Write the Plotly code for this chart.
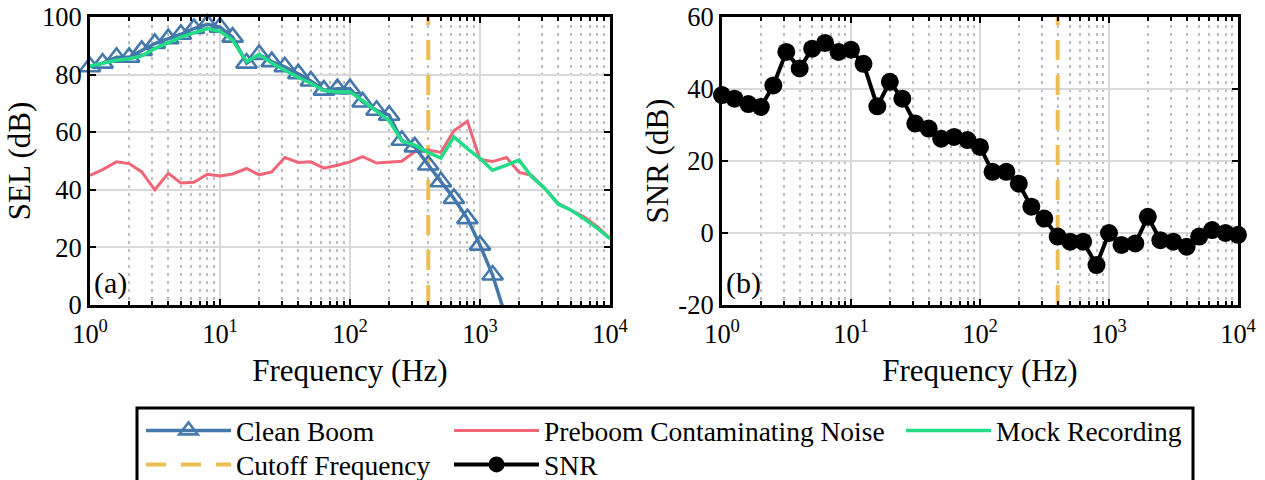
import plotly.graph_objects as go

# ---------------- data ----------------
FREQ_HZ = [1, 1.25, 1.6, 2, 2.5, 3.15, 4, 5, 6.3, 8,
           10, 12.5, 16, 20, 25, 31.5, 40, 50, 63, 80,
           100, 125, 160, 200, 250, 315, 400, 500, 630, 800,
           1000, 1250, 1600, 2000, 2500, 3150, 4000, 5000, 6300, 8000, 10000]

CLEAN_BOOM_DB = [82.7, 84, 86, 86, 88.4, 90.8, 92.5, 94, 96, 97.5,
                 96.5, 93, 84, 87, 84.5, 82.7, 80.3, 77.8, 74.6, 75.1,
                 75.1, 70.5, 67.6, 65.9, 57.2, 54.9, 48.6, 42.8, 37, 30,
                 20.8, 10.4, -5]

PREBOOM_NOISE_DB = [45, 47, 49.7, 49.1, 46.2, 40, 45.7, 42.4, 42.6, 45.4,
                    44.8, 45.5, 47.4, 45.2, 46.2, 51.2, 49.5, 49.7, 47.5, 48.5,
                    49.7, 51.5, 49.3, 49.7, 49.9, 53.2, 53.8, 53, 60.5, 63.8,
                    50.5, 49.8, 51.2, 46, 45, 40.5, 35.3, 33, 30.6, 27.2, 23.2]

MOCK_RECORDING_DB = [83, 84, 85, 85.5, 86.5, 89, 91, 93, 94.5, 96,
                     95, 92, 84.5, 87, 84, 81.5, 79, 77, 74.5, 74,
                     74, 71, 67.5, 64, 57, 55.5, 53, 51, 58.4, 54.3,
                     50.9, 46.8, 48.6, 50.3, 44.5, 40.5, 35, 33, 30, 26.6, 23]

SNR_DB = [38.3, 37.3, 35.8, 35, 41, 50.3, 45.7, 51.2, 52.8, 50.3,
          50.9, 47, 35.2, 42, 37.3, 30.4, 29, 26.2, 26.7, 25.8,
          23.9, 17, 17, 13.7, 7.3, 4, -1, -2.4, -2.4, -8.9,
          0, -3.3, -2.9, 4.5, -2, -2.4, -3.8, -1, 0.8, 0, -0.5]

CUTOFF_HZ = 400

X_RANGE_LOG = [0, 4]
Y_RANGE_A = [0, 100]
Y_RANGE_B = [-20, 60]
X_TICKVALS = [1, 10, 100, 1000, 10000]
X_TICKTEXT = ["10<sup>0</sup>", "10<sup>1</sup>", "10<sup>2</sup>",
              "10<sup>3</sup>", "10<sup>4</sup>"]
X_MINOR = [m * 10 ** d for d in range(4) for m in range(2, 10)]
Y_TICKS_A = [0, 20, 40, 60, 80, 100]
Y_TICKS_B = [-20, 0, 20, 40, 60]

# ---------------- styling ----------------
W, H = 1265, 480
FONT = "Liberation Serif"
BLUE = "#4477AA"
RED = "#EE6677"
GREEN = "#22DD88"
GOLD = "#ECBF55"
CUT_DASH = "20px,15px"
TICK_SIZE = 26.5
TITLE_SIZE = 31


def px_x(p):
    return p / W


def px_y(p):
    return 1 - p / H


fig = go.Figure()

# cutoff lines (drawn first, behind data)
fig.add_trace(go.Scatter(
    x=[CUTOFF_HZ, CUTOFF_HZ], y=Y_RANGE_A, mode="lines",
    line=dict(color=GOLD, width=4, dash=CUT_DASH),
    name="Cutoff Frequency", legend="legend4",
    xaxis="x", yaxis="y"))
fig.add_trace(go.Scatter(
    x=[CUTOFF_HZ, CUTOFF_HZ], y=Y_RANGE_B, mode="lines",
    line=dict(color=GOLD, width=4, dash=CUT_DASH),
    name="Cutoff Frequency", showlegend=False, xaxis="x2", yaxis="y2"))

fig.add_trace(go.Scatter(
    x=FREQ_HZ[:len(PREBOOM_NOISE_DB)], y=PREBOOM_NOISE_DB, mode="lines",
    line=dict(color=RED, width=3),
    name="Preboom Contaminating Noise", legend="legend2",
    xaxis="x", yaxis="y"))

# hide markers that fall outside the axis range (their line part is clipped)
clean_opacity = [1 if v >= Y_RANGE_A[0] else 0 for v in CLEAN_BOOM_DB]
fig.add_trace(go.Scatter(
    x=FREQ_HZ[:len(CLEAN_BOOM_DB)], y=CLEAN_BOOM_DB, mode="lines+markers",
    line=dict(color=BLUE, width=3.5),
    marker=dict(symbol="triangle-up-open", size=18, color=BLUE,
                opacity=clean_opacity, line=dict(width=2.6, color=BLUE)),
    cliponaxis=False,
    name="Clean Boom", legend="legend", xaxis="x", yaxis="y"))

fig.add_trace(go.Scatter(
    x=FREQ_HZ[:len(MOCK_RECORDING_DB)], y=MOCK_RECORDING_DB, mode="lines",
    line=dict(color=GREEN, width=3.5),
    name="Mock Recording", legend="legend3", xaxis="x", yaxis="y"))

fig.add_trace(go.Scatter(
    x=FREQ_HZ[:len(SNR_DB)], y=SNR_DB, mode="lines+markers",
    line=dict(color="black", width=4),
    marker=dict(symbol="circle", size=18, color="black"),
    cliponaxis=False,
    name="SNR", legend="legend5", xaxis="x2", yaxis="y2"))


def xaxis_style(domain, anchor):
    return dict(
        domain=domain, anchor=anchor, type="log", range=X_RANGE_LOG,
        tickmode="array", tickvals=X_TICKVALS, ticktext=X_TICKTEXT,
        ticks="inside", ticklen=6, tickwidth=2, tickcolor="black",
        showline=True, linewidth=3, linecolor="black", mirror="ticks",
        showgrid=True, gridcolor="#d9d9d9", gridwidth=2,
        minor=dict(tickmode="array", tickvals=X_MINOR, ticks="inside",
                   ticklen=4, tickwidth=2, tickcolor="black",
                   showgrid=True, gridcolor="#bdbdbd", gridwidth=2,
                   griddash="3px,5px"),
        tickfont=dict(size=TICK_SIZE, color="black", family=FONT),
        ticklabelstandoff=3,
        title=dict(text="Frequency (Hz)", font=dict(size=TITLE_SIZE, family=FONT),
                   standoff=12),
        automargin=False, zeroline=False,
    )


def yaxis_style(domain, anchor, rng, ticks, title, standoff):
    return dict(
        domain=domain, anchor=anchor, range=rng,
        tickmode="array", tickvals=ticks, ticktext=[str(t) for t in ticks],
        ticks="inside", ticklen=6, tickwidth=2, tickcolor="black",
        showline=True, linewidth=3, linecolor="black", mirror="ticks",
        showgrid=True, gridcolor="#d9d9d9", gridwidth=2, zeroline=False,
        tickfont=dict(size=TICK_SIZE, color="black", family=FONT),
        title=dict(text=title, font=dict(size=TITLE_SIZE, family=FONT),
                   standoff=standoff),
        automargin=False,
    )


Y_DOMAIN = [px_y(305), px_y(17)]
LEG_COMMON = dict(xanchor="left", yanchor="top", bgcolor="rgba(0,0,0,0)",
                  borderwidth=0, itemwidth=85,
                  font=dict(size=27.5, family=FONT))
ROW1_TOP, ROW2_TOP = 406, 440
fig.update_layout(
    width=W, height=H,
    margin=dict(l=0, r=0, t=0, b=0, autoexpand=False),
    paper_bgcolor="white", plot_bgcolor="white",
    font=dict(family=FONT, color="black", size=25),
    xaxis=xaxis_style([px_x(90), px_x(610)], "y"),
    yaxis=yaxis_style(Y_DOMAIN, "x", Y_RANGE_A, Y_TICKS_A, "SEL (dB)", 3),
    xaxis2=xaxis_style([px_x(722), px_x(1238)], "y2"),
    yaxis2=yaxis_style(Y_DOMAIN, "x2", Y_RANGE_B, Y_TICKS_B, "SNR (dB)", 1),
    legend=dict(x=px_x(141), y=px_y(ROW1_TOP), **LEG_COMMON),
    legend2=dict(x=px_x(449), y=px_y(ROW1_TOP), **LEG_COMMON),
    legend3=dict(x=px_x(901), y=px_y(ROW1_TOP), **LEG_COMMON),
    legend4=dict(x=px_x(141), y=px_y(ROW2_TOP), **LEG_COMMON),
    legend5=dict(x=px_x(449), y=px_y(ROW2_TOP), **LEG_COMMON),
    showlegend=True,
)

# legend frame
fig.add_shape(type="rect", xref="paper", yref="paper",
              x0=px_x(137), x1=px_x(1193), y0=px_y(500), y1=px_y(408),
              line=dict(color="black", width=3), fillcolor="rgba(0,0,0,0)")

# zero reference line in panel (b)
fig.add_shape(type="line", xref="x2 domain", yref="y2", x0=0, x1=1, y0=0, y1=0,
              line=dict(color="#333333", width=1.2, dash="6px,4px"),
              layer="below")

# panel labels
for lab, xr, yr in [("(a)", "x domain", "y domain"), ("(b)", "x2 domain", "y2 domain")]:
    fig.add_annotation(text=lab, xref=xr, yref=yr, x=0.004, y=0.01,
                       xanchor="left", yanchor="bottom", showarrow=False,
                       font=dict(size=30, family=FONT, color="black"))

fig.write_html("out.html")
